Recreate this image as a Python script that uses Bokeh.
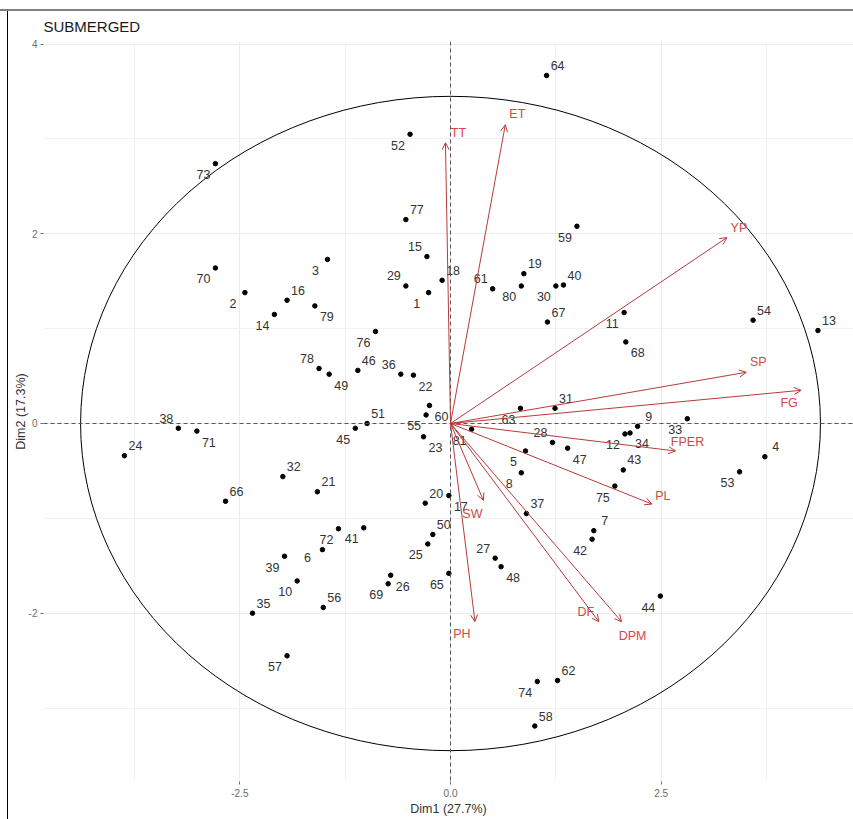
from bokeh.plotting import figure
from bokeh.models import (ColumnDataSource, Range1d, FixedTicker, Span, Arrow,
                          OpenHead, NumeralTickFormatter)
from bokeh.core.properties import value
from bokeh.embed import file_html
from bokeh.resources import INLINE

# ---------------- data ----------------
ind_ids = [str(i) for i in range(1, 82)]
ind_dim1 = [-0.26, -2.44, -1.46, 3.73, 0.89, -1.52, 1.70, 0.84, 2.22, -1.82,
            2.06, 2.07, 4.36, -2.09, -0.28, -1.94, -0.02, -0.10, 0.87, -0.30,
            -1.58, -0.44, -0.32, -3.87, -0.27, -0.71, 0.53, 1.21, -0.53, 1.25,
            1.24, -1.99, 2.81, 2.13, -2.35, -0.59, 0.90, -3.23, -1.97, 1.34,
            -1.03, 1.68, 2.05, 2.49, -1.13, -1.10, 1.39, 0.60, -1.44, -0.21,
            -0.99, -0.48, 3.43, 3.59, -0.29, -1.51, -1.94, 1.00, 1.50, -0.25,
            0.50, 1.27, 0.83, 1.14, -0.02, -2.67, 1.15, 2.08, -0.74, -2.79,
            -3.01, -1.33, -2.79, 1.03, 1.95, -0.89, -0.53, -1.56, -1.61, 0.84,
            0.25]
ind_dim2 = [1.38, 1.38, 1.73, -0.35, -0.29, -1.33, -1.13, -0.52, -0.03, -1.66,
            1.17, -0.11, 0.98, 1.15, 1.76, 1.30, -0.76, 1.51, 1.58, -0.84,
            -0.72, 0.51, -0.14, -0.34, -1.27, -1.60, -1.42, -0.20, 1.45, 1.45,
            0.16, -0.56, 0.05, -0.10, -2.00, 0.52, -0.95, -0.05, -1.40, 1.46,
            -1.10, -1.22, -0.49, -1.82, -0.05, 0.56, -0.26, -1.51, 0.52, -1.17,
            0.00, 3.05, -0.51, 1.09, 0.09, -1.94, -2.45, -3.19, 2.08, 0.19,
            1.42, -2.71, 0.16, 3.67, -1.58, -0.82, 1.07, 0.86, -1.69, 1.64,
            -0.08, -1.11, 2.74, -2.72, -0.66, 0.97, 2.15, 0.58, 1.24, 1.45,
            -0.06]
ind_label_pos = ["ll", "ll", "ll", "ur", "ll", "l", "ur", "ll", "ur", "ll",
                 "ll", "ll", "ur", "ll", "ul", "ur", "lr", "ur", "ur", "ur",
                 "ur", "lr", "lr", "ur", "ll", "lr", "ul", "ul", "ul", "ll",
                 "ur", "ur", "ll", "lr", "ur", "ul", "ur", "ul", "ll", "ur",
                 "ll", "ll", "ur", "ll", "ll", "ur", "lr", "lr", "lr", "ur",
                 "ur", "ll", "ll", "ur", "ll", "ur", "ll", "ur", "ll", "lr",
                 "ul", "ur", "ll", "ur", "ll", "ur", "ur", "lr", "ll", "ll",
                 "lr", "ll", "ll", "ll", "ll", "ll", "ur", "ul", "lr", "ll",
                 "ll"]

var_names = ["TT", "ET", "YP", "SP", "FG", "FPER", "PL", "SW", "PH", "DF", "DPM"]
var_dim1 = [-0.06, 0.65, 3.28, 3.51, 4.16, 2.67, 2.39, 0.39, 0.29, 1.76, 2.03]
var_dim2 = [2.96, 3.15, 1.96, 0.54, 0.35, -0.29, -0.85, -0.81, -2.09, -2.09, -2.09]
var_label_dx = [13, 12, 12, 12, -12, 12, 11, -11, -13, -13, 11]
var_label_dy = [-10, -11, -10, -10, 13, -9, -8, 14, 12, -10, 14]

x_ticks = [-2.5, 0.0, 2.5]
x_minor = [-3.75, -1.25, 1.25, 3.75]
y_ticks = [-2, 0, 2, 4]
y_minor = [-3, -1, 1, 3]
circle_rx = 4.39
circle_ry = 3.45

# ---------------- style ----------------
FONT = "Liberation Sans"
pos_offsets = {"ur": (11, -10), "ul": (-12, -10), "lr": (12, 11),
               "ll": (-12, 11), "l": (-15, 8)}
VAR_LINE = "#b83a3a"
VAR_TEXT = "#d24848"

p = figure(width=853, height=819,
           x_range=Range1d(-4.83, 4.782), y_range=Range1d(-3.775, 4.028),
           output_backend="svg", toolbar_location=None,
           min_border_left=43, min_border_right=0,
           min_border_top=41, min_border_bottom=38)
p.outline_line_color = None
p.background_fill_color = "white"
p.border_fill_color = None
# frame of the original picture: grey line on top, black line at left
p.styles = {
    "background-color": "white",
    "box-shadow": ("inset 0 9px 0 0 white, inset 0 11px 0 0 #808080, "
                   "inset 7px 0 0 0 white, inset 8px 0 0 0 #000000"),
}

p.title.text = "SUBMERGED"
p.title.text_font = FONT
p.title.text_font_size = "15px"
p.title.text_font_style = "normal"
p.title.text_color = "#1a1a1a"
p.title.align = "left"
p.title.offset = 0
p.title.standoff = 13

# axes
p.xaxis.ticker = FixedTicker(ticks=x_ticks, minor_ticks=x_minor)
p.yaxis.ticker = FixedTicker(ticks=y_ticks, minor_ticks=y_minor)
p.xaxis.formatter = NumeralTickFormatter(format="0.0")
p.yaxis.formatter = NumeralTickFormatter(format="0")
p.xaxis.axis_label = "Dim1 (27.7%)"
p.yaxis.axis_label = "Dim2 (17.3%)"
for ax in (p.xaxis, p.yaxis):
    ax.axis_line_color = None
    ax.major_tick_line_color = "#6b6b6b"
    ax.major_tick_out = 3
    ax.major_tick_in = 0
    ax.minor_tick_line_color = None
    ax.major_label_text_font = FONT
    ax.major_label_text_font_size = "10px"
    ax.major_label_text_color = "#6b6b6b"
    ax.axis_label_text_font = FONT
    ax.axis_label_text_font_size = "12.5px"
    ax.axis_label_text_font_style = "normal"
    ax.axis_label_text_color = "#333333"
p.xaxis.major_label_standoff = 3
p.xaxis.axis_label_standoff = 2
p.yaxis.major_label_standoff = 2
p.yaxis.axis_label_standoff = -2

p.xgrid.ticker = FixedTicker(ticks=x_ticks, minor_ticks=x_minor)
p.ygrid.ticker = FixedTicker(ticks=y_ticks, minor_ticks=y_minor)
for g in (p.xgrid, p.ygrid):
    g.grid_line_color = "#ebebeb"
    g.grid_line_width = 1
    g.minor_grid_line_color = "#f1f1f1"
    g.minor_grid_line_width = 1

# reference dashed lines
p.add_layout(Span(location=0, dimension="width", line_color="#555555",
                  line_dash="4 3", line_width=1))
p.add_layout(Span(location=0, dimension="height", line_color="#555555",
                  line_dash="4 3", line_width=1))

# correlation circle
p.ellipse(x=[0], y=[0], width=[2 * circle_rx], height=[2 * circle_ry],
          fill_color=None, line_color="black", line_width=1)

# individuals
ind_src = ColumnDataSource(dict(
    x=ind_dim1, y=ind_dim2, label=ind_ids,
    dx=[pos_offsets[k][0] for k in ind_label_pos],
    dy=[pos_offsets[k][1] for k in ind_label_pos]))
p.scatter("x", "y", source=ind_src, size=4.5, color="black")
p.text("x", "y", text="label", source=ind_src, x_offset="dx", y_offset="dy",
       text_align="center", text_baseline="middle",
       text_font=value(FONT), text_font_size=value("12.5px"),
       text_color="#333333")

# variables
var_src = ColumnDataSource(dict(
    x0=[0.0] * len(var_names), y0=[0.0] * len(var_names),
    x=var_dim1, y=var_dim2, name=var_names,
    dx=var_label_dx, dy=var_label_dy))
p.add_layout(Arrow(end=OpenHead(size=7, line_color=VAR_LINE, line_width=1),
                   x_start="x0", y_start="y0", x_end="x", y_end="y",
                   source=var_src, line_color=VAR_LINE, line_width=1))
p.text("x", "y", text="name", source=var_src, x_offset="dx", y_offset="dy",
       text_align="center", text_baseline="middle",
       text_font=value(FONT), text_font_size=value("12.5px"),
       text_color=VAR_TEXT)

open("out.html", "w").write(file_html(p, INLINE))
